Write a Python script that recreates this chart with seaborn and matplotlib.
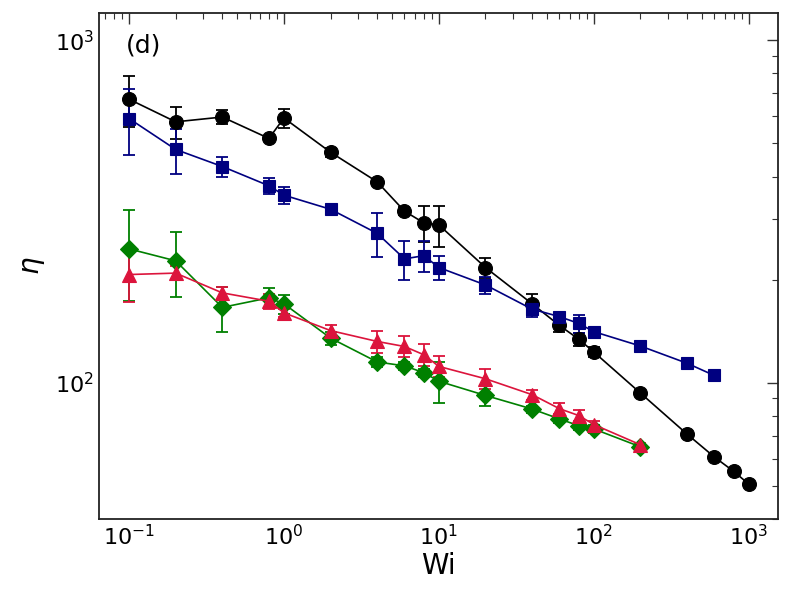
import numpy as np
import pandas as pd
import matplotlib
matplotlib.use("Agg")
import matplotlib.pyplot as plt
import seaborn as sns
from matplotlib.ticker import LogLocator, NullFormatter

# ---- data ----
wi_black = [0.1, 0.2, 0.4, 0.8, 1.0, 2, 4, 6, 8, 10, 20, 40, 60, 80, 100, 200, 400, 600, 800, 1000]
eta_black = [673, 578, 597, 517, 593, 471, 386, 317, 293, 289, 217, 170, 147, 134, 123, 93.3, 70.8, 60.7, 55.1, 50.6]
err_black = [114, 62, 27, 10, 37, 14, 8, 8, 35, 40, 15, 12, 6, 6, 4, 2, 1.5, 1, 1, 1]

wi_blue = [0.1, 0.2, 0.4, 0.8, 1.0, 2, 4, 6, 8, 10, 20, 40, 60, 80, 100, 200, 400, 600]
eta_blue = [591, 480, 428, 376, 353, 321, 273, 230, 235, 217, 193, 164, 156, 149, 141, 128, 114, 105]
err_blue = [130, 72, 28, 21, 21, 8, 40, 30, 24, 18, 11, 8, 4, 9, 3, 2, 2, 2]

wi_green = [0.1, 0.2, 0.4, 0.8, 1.0, 2, 4, 6, 8, 10, 20, 40, 60, 80, 100, 200]
eta_green = [246, 227, 166, 177, 170, 135, 115, 112, 107, 101, 91.8, 83.8, 78.4, 74.9, 73.3, 65.0]
err_green = [73, 49, 25, 12, 11, 6, 4, 3, 3, 14, 6.5, 2, 2, 2, 2, 1]

wi_red = [0.1, 0.2, 0.4, 0.8, 1.0, 2, 4, 6, 8, 10, 20, 40, 60, 80, 100, 200]
eta_red = [207, 209, 183, 173, 160, 142, 132, 127.6, 120.7, 111.6, 102.7, 92.3, 84, 80.2, 75.5, 65.9]
err_red = [35, 10, 8, 9, 4, 5, 10, 9, 9, 8, 7, 3, 3, 3, 2, 1]

series = [
    (wi_black, eta_black, err_black, "black", "o", 10),
    (wi_blue, eta_blue, err_blue, "navy", "s", 9),
    (wi_green, eta_green, err_green, "green", "D", 9.5),
    (wi_red, eta_red, err_red, "crimson", "^", 10),
]

sns.set_style("white")
plt.rcParams['font.family'] = ['DejaVu Sans']
plt.rcParams['mathtext.fontset'] = 'dejavusans'
plt.rcParams['text.color'] = 'black'
plt.rcParams['axes.labelcolor'] = 'black'
plt.rcParams['xtick.color'] = 'black'
plt.rcParams['ytick.color'] = 'black'

fig = plt.figure(figsize=(7.92, 6.0), dpi=100)
ax = fig.add_axes([0.125, 0.135, 0.857, 0.843])

for wi, eta, err, col, mk, ms in series:
    df = pd.DataFrame({"Wi": wi, "eta": eta})
    ax.errorbar(wi, eta, yerr=err, fmt='none', ecolor=col, elinewidth=1.3,
                capsize=4, capthick=1.3, zorder=2)
    sns.lineplot(data=df, x="Wi", y="eta", ax=ax, color=col, marker=mk,
                 markersize=ms, markeredgecolor=col, markeredgewidth=0.8,
                 linewidth=1.2, zorder=3, legend=False)

ax.set_xscale("log")
ax.set_yscale("log")
ax.set_xlim(0.064, 1540)
ax.set_ylim(40, 1200)

ax.xaxis.set_major_locator(LogLocator(base=10, numticks=20))
ax.xaxis.set_minor_locator(LogLocator(base=10, subs=np.arange(2, 10), numticks=20))
ax.yaxis.set_major_locator(LogLocator(base=10, numticks=20))
ax.yaxis.set_minor_locator(LogLocator(base=10, subs=np.arange(2, 10), numticks=20))
ax.xaxis.set_minor_formatter(NullFormatter())
ax.yaxis.set_minor_formatter(NullFormatter())

ax.tick_params(which='both', direction='in', top=True, right=True, labelsize=16,
               color='#333333', labelcolor='black')
ax.tick_params(which='major', length=8, width=1.0)
ax.tick_params(which='minor', length=4, width=0.8)
for s in ax.spines.values():
    s.set_linewidth(1.3)
    s.set_color('#222222')

ax.set_xlabel("Wi", fontsize=20, labelpad=2, color='black')
ax.set_ylabel(r"$\eta$", fontsize=20, labelpad=6, color='black')
ax.text(0.04, 0.96, "(d)", transform=ax.transAxes, fontsize=18, va='top', ha='left', color='black')

fig.savefig("out.png", dpi=100)
